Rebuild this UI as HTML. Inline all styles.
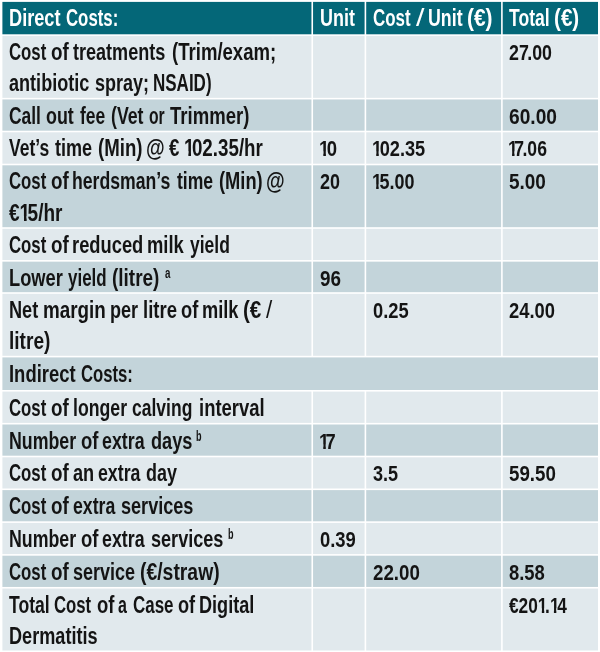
<!DOCTYPE html>
<html><head><meta charset="utf-8"><title>Cost of Digital Dermatitis</title><style>
html,body{margin:0;padding:0;background:#fff;}
body{width:600px;height:652px;position:relative;overflow:hidden;filter:blur(0.3px);font-family:"Liberation Sans", sans-serif;font-weight:bold;font-size:23.5px;line-height:1;color:#141414;}
svg{position:absolute;left:0;top:0;display:block;}
.l{position:absolute;left:0;width:600px;height:23.5px;white-space:pre;}
.h{color:#fff;}
.w{position:absolute;top:0;white-space:pre;transform-origin:0 0;display:block;}
.s{font-size:14px;top:-0.6px;}
.r{font-weight:normal;}
.n{transform-origin:0 19.4px;}
.o{display:inline-block;margin-right:-0.135em;clip-path:polygon(0 0,100% 0,100% 0.6em,0.372em 0.6em,0.372em 1em,0.232em 1em,0.232em 0.6em,0 0.6em);}
.o.k{margin-right:-0.2em;}
.p{margin-left:-0.09em;}
</style></head><body>
<svg width="600" height="652" viewBox="0 0 600 652">
<rect x="2.4" y="1.9" width="595.6" height="33.2" fill="#046778"/>
<rect x="2.4" y="35.1" width="595.6" height="63.55" fill="#e1e9ed"/>
<rect x="2.4" y="98.65" width="595.6" height="32.85" fill="#c3d4da"/>
<rect x="2.4" y="131.5" width="595.6" height="33" fill="#e1e9ed"/>
<rect x="2.4" y="164.5" width="595.6" height="63.5" fill="#c3d4da"/>
<rect x="2.4" y="228" width="595.6" height="32.85" fill="#e1e9ed"/>
<rect x="2.4" y="260.85" width="595.6" height="32.15" fill="#c3d4da"/>
<rect x="2.4" y="293" width="595.6" height="63.6" fill="#e1e9ed"/>
<rect x="2.4" y="356.6" width="595.6" height="34.2" fill="#c3d4da"/>
<rect x="2.4" y="390.8" width="595.6" height="32.9" fill="#e1e9ed"/>
<rect x="2.4" y="423.7" width="595.6" height="32.8" fill="#c3d4da"/>
<rect x="2.4" y="456.5" width="595.6" height="32.8" fill="#e1e9ed"/>
<rect x="2.4" y="489.3" width="595.6" height="32.8" fill="#c3d4da"/>
<rect x="2.4" y="522.1" width="595.6" height="32.8" fill="#e1e9ed"/>
<rect x="2.4" y="554.9" width="595.6" height="32.85" fill="#c3d4da"/>
<rect x="2.4" y="587.75" width="595.6" height="62.75" fill="#e1e9ed"/>
<rect x="0" y="34.3" width="600" height="1.6" fill="#fff"/>
<rect x="0" y="97.85" width="600" height="1.6" fill="#fff"/>
<rect x="0" y="130.7" width="600" height="1.6" fill="#fff"/>
<rect x="0" y="163.7" width="600" height="1.6" fill="#fff"/>
<rect x="0" y="227.2" width="600" height="1.6" fill="#fff"/>
<rect x="0" y="260.05" width="600" height="1.6" fill="#fff"/>
<rect x="0" y="292.2" width="600" height="1.6" fill="#fff"/>
<rect x="0" y="355.8" width="600" height="1.6" fill="#fff"/>
<rect x="0" y="390" width="600" height="1.6" fill="#fff"/>
<rect x="0" y="422.9" width="600" height="1.6" fill="#fff"/>
<rect x="0" y="455.7" width="600" height="1.6" fill="#fff"/>
<rect x="0" y="488.5" width="600" height="1.6" fill="#fff"/>
<rect x="0" y="521.3" width="600" height="1.6" fill="#fff"/>
<rect x="0" y="554.1" width="600" height="1.6" fill="#fff"/>
<rect x="0" y="586.95" width="600" height="1.6" fill="#fff"/>
<rect x="311.45" y="0" width="1.6" height="356.6" fill="#fff"/>
<rect x="311.45" y="390.8" width="1.6" height="261.2" fill="#fff"/>
<rect x="364.6" y="0" width="1.6" height="356.6" fill="#fff"/>
<rect x="364.6" y="390.8" width="1.6" height="261.2" fill="#fff"/>
<rect x="501.1" y="0" width="1.6" height="356.6" fill="#fff"/>
<rect x="501.1" y="390.8" width="1.6" height="261.2" fill="#fff"/>
</svg>
<div class="l h" style="top:7px"><span class="w" style="left:8.54px;transform:scaleX(0.7738)">Direct</span> <span class="w" style="left:66.29px;transform:scaleX(0.7143)">Costs:</span> <span class="w" style="left:320.05px;transform:scaleX(0.7638)">Unit</span> <span class="w" style="left:373.28px;transform:scaleX(0.7196)">Cost</span> <span class="w r" style="left:415.80px;transform:scaleX(1.2923)">/</span> <span class="w" style="left:427.55px;transform:scaleX(0.7571)">Unit</span> <span class="w" style="left:467.11px;transform:scaleX(0.8906)">(€)</span> <span class="w" style="left:509.21px;transform:scaleX(0.7467)">Total</span> <span class="w" style="left:554.12px;transform:scaleX(0.8792)">(€)</span></div>
<div class="l" style="top:41px"><span class="w" style="left:9.29px;transform:scaleX(0.7137)">Cost</span> <span class="w" style="left:51.40px;transform:scaleX(0.8000)">of</span> <span class="w" style="left:72.61px;transform:scaleX(0.7681)">treatments</span> <span class="w" style="left:171.71px;transform:scaleX(0.7899)">(Trim/exam;</span> <span class="w n" style="left:508.73px;transform:scale(0.7582,0.95)">27<span class="p">.</span>00</span></div>
<div class="l" style="top:72px"><span class="w" style="left:9.42px;transform:scaleX(0.7690)">antibiotic</span> <span class="w" style="left:94.73px;transform:scaleX(0.7661)">spray;</span> <span class="w" style="left:152.62px;transform:scaleX(0.7233)">NSAID)</span></div>
<div class="l" style="top:105px"><span class="w" style="left:9.26px;transform:scaleX(0.7407)">Call</span> <span class="w" style="left:45.73px;transform:scaleX(0.7606)">out</span> <span class="w" style="left:79.51px;transform:scaleX(0.7424)">fee</span> <span class="w" style="left:110.55px;transform:scaleX(0.7548)">(Vet</span> <span class="w" style="left:148.70px;transform:scaleX(0.6667)">or</span> <span class="w" style="left:169.50px;transform:scaleX(0.7889)">Trimmer)</span> <span class="w n" style="left:508.69px;transform:scale(0.8157,0.95)">60.00</span></div>
<div class="l" style="top:137px"><span class="w" style="left:9.31px;transform:scaleX(0.7431)">Vet’s</span> <span class="w" style="left:54.81px;transform:scaleX(0.7683)">time</span> <span class="w" style="left:97.91px;transform:scaleX(0.7926)">(Min)</span> <span class="w" style="left:146.48px;transform:scaleX(0.8146)">@</span> <span class="w" style="left:169.20px;transform:scaleX(0.7922)">€</span> <span class="w" style="left:183.80px;transform:scaleX(0.7990)"><span class="o">1</span>02.35/hr</span> <span class="w n" style="left:318.61px;transform:scale(0.7904,0.95)"><span class="o">1</span>0</span> <span class="w n" style="left:371.84px;transform:scale(0.7744,0.95)"><span class="o">1</span>02.35</span> <span class="w n" style="left:508.18px;transform:scale(0.7477,0.95)"><span class="o k">1</span>7<span class="p">.</span>06</span></div>
<div class="l" style="top:170px"><span class="w" style="left:9.29px;transform:scaleX(0.7137)">Cost</span> <span class="w" style="left:51.40px;transform:scaleX(0.8000)">of</span> <span class="w" style="left:72.17px;transform:scaleX(0.7511)">herdsman’s</span> <span class="w" style="left:177.11px;transform:scaleX(0.7471)">time</span> <span class="w" style="left:219.22px;transform:scaleX(0.7778)">(Min)</span> <span class="w" style="left:266.48px;transform:scaleX(0.8146)">@</span> <span class="w n" style="left:319.73px;transform:scale(0.7633,0.95)">20</span> <span class="w n" style="left:372.15px;transform:scale(0.7643,0.95)"><span class="o">1</span>5.00</span> <span class="w n" style="left:508.69px;transform:scale(0.8068,0.95)">5.00</span></div>
<div class="l" style="top:202px"><span class="w" style="left:9.30px;transform:scaleX(0.8091)">€<span class="o">1</span>5/hr</span></div>
<div class="l" style="top:234px"><span class="w" style="left:9.29px;transform:scaleX(0.7137)">Cost</span> <span class="w" style="left:51.40px;transform:scaleX(0.8000)">of</span> <span class="w" style="left:72.33px;transform:scaleX(0.7797)">reduced</span> <span class="w" style="left:147.43px;transform:scaleX(0.7824)">milk</span> <span class="w" style="left:189.81px;transform:scaleX(0.7440)">yield</span></div>
<div class="l" style="top:267px"><span class="w" style="left:8.83px;transform:scaleX(0.7778)">Lower</span> <span class="w" style="left:68.32px;transform:scaleX(0.7208)">yield</span> <span class="w" style="left:112.19px;transform:scaleX(0.8070)">(litre)</span> <span class="w s" style="left:165.13px;transform:scaleX(0.6968)">a</span> <span class="w n" style="left:319.70px;transform:scale(0.8041,0.95)">96</span></div>
<div class="l" style="top:299px"><span class="w" style="left:8.84px;transform:scaleX(0.7724)">Net</span> <span class="w" style="left:43.00px;transform:scaleX(0.8013)">margin</span> <span class="w" style="left:109.65px;transform:scaleX(0.7683)">per</span> <span class="w" style="left:142.52px;transform:scaleX(0.7877)">litre</span> <span class="w" style="left:180.72px;transform:scaleX(0.7767)">of</span> <span class="w" style="left:201.84px;transform:scaleX(0.7758)">milk</span> <span class="w" style="left:242.82px;transform:scaleX(0.8769)">(€</span> <span class="w r" style="left:265.80px;transform:scaleX(0.9538)">/</span> <span class="w n" style="left:372.72px;transform:scale(0.7798,0.95)">0.25</span> <span class="w n" style="left:508.71px;transform:scale(0.7808,0.95)">24.00</span></div>
<div class="l" style="top:330px"><span class="w" style="left:8.78px;transform:scaleX(0.8124)">litre)</span></div>
<div class="l" style="top:363px"><span class="w" style="left:8.82px;transform:scaleX(0.7844)">Indirect</span> <span class="w" style="left:81.29px;transform:scaleX(0.7100)">Costs:</span></div>
<div class="l" style="top:397px"><span class="w" style="left:9.29px;transform:scaleX(0.7137)">Cost</span> <span class="w" style="left:51.40px;transform:scaleX(0.8000)">of</span> <span class="w" style="left:72.87px;transform:scaleX(0.7529)">longer</span> <span class="w" style="left:132.44px;transform:scaleX(0.7454)">calving</span> <span class="w" style="left:198.82px;transform:scaleX(0.7863)">interval</span></div>
<div class="l" style="top:430px"><span class="w" style="left:8.87px;transform:scaleX(0.7563)">Number</span> <span class="w" style="left:81.11px;transform:scaleX(0.7860)">of</span> <span class="w" style="left:102.43px;transform:scaleX(0.7570)">extra</span> <span class="w" style="left:150.53px;transform:scaleX(0.7729)">days</span> <span class="w s" style="left:196.21px;transform:scaleX(0.6483)">b</span> <span class="w n" style="left:318.83px;transform:scale(0.7789,0.95)"><span class="o k">1</span>7</span></div>
<div class="l" style="top:462px"><span class="w" style="left:9.29px;transform:scaleX(0.7137)">Cost</span> <span class="w" style="left:51.40px;transform:scaleX(0.8000)">of</span> <span class="w" style="left:72.91px;transform:scaleX(0.7725)">an</span> <span class="w" style="left:98.13px;transform:scaleX(0.7552)">extra</span> <span class="w" style="left:146.24px;transform:scaleX(0.7643)">day</span> <span class="w n" style="left:372.92px;transform:scale(0.7683,0.95)">3.5</span> <span class="w n" style="left:508.70px;transform:scale(0.7983,0.95)">59.50</span></div>
<div class="l" style="top:495px"><span class="w" style="left:9.29px;transform:scaleX(0.7137)">Cost</span> <span class="w" style="left:51.40px;transform:scaleX(0.8000)">of</span> <span class="w" style="left:72.73px;transform:scaleX(0.7534)">extra</span> <span class="w" style="left:120.72px;transform:scaleX(0.7697)">services</span></div>
<div class="l" style="top:528px"><span class="w" style="left:8.87px;transform:scaleX(0.7563)">Number</span> <span class="w" style="left:81.11px;transform:scaleX(0.7860)">of</span> <span class="w" style="left:102.43px;transform:scaleX(0.7570)">extra</span> <span class="w" style="left:150.72px;transform:scaleX(0.7697)">services</span> <span class="w s" style="left:227.81px;transform:scaleX(0.6483)">b</span> <span class="w n" style="left:319.71px;transform:scale(0.7842,0.95)">0.39</span></div>
<div class="l" style="top:561px"><span class="w" style="left:9.29px;transform:scaleX(0.7137)">Cost</span> <span class="w" style="left:51.40px;transform:scaleX(0.8000)">of</span> <span class="w" style="left:72.73px;transform:scaleX(0.7660)">service</span> <span class="w" style="left:140.48px;transform:scaleX(0.8243)">(€/straw)</span> <span class="w n" style="left:372.70px;transform:scale(0.7983,0.95)">22.00</span> <span class="w n" style="left:508.71px;transform:scale(0.7842,0.95)">8.58</span></div>
<div class="l" style="top:594px"><span class="w" style="left:9.21px;transform:scaleX(0.7486)">Total</span> <span class="w" style="left:54.29px;transform:scaleX(0.7118)">Cost</span> <span class="w" style="left:96.71px;transform:scaleX(0.7860)">of</span> <span class="w" style="left:117.96px;transform:scaleX(0.6824)">a</span> <span class="w" style="left:132.98px;transform:scaleX(0.7211)">Case</span> <span class="w" style="left:178.12px;transform:scaleX(0.7721)">of</span> <span class="w" style="left:199.14px;transform:scaleX(0.7709)">Digital</span> <span class="w n" style="left:509.30px;transform:scale(0.7350,0.95)">€20<span class="o">1</span>.<span class="o">1</span>4</span></div>
<div class="l" style="top:625px"><span class="w" style="left:8.84px;transform:scaleX(0.7707)">Dermatitis</span></div>
</body></html>
